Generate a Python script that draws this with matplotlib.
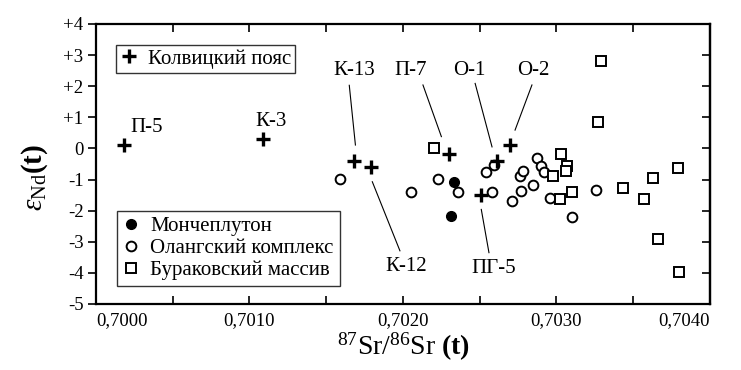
import numpy as np
import matplotlib
matplotlib.use('Agg')
from matplotlib import pyplot as plt
from matplotlib.lines import Line2D

plt.rcParams['font.family'] = ['Liberation Serif', 'DejaVu Serif']
plt.rcParams['mathtext.fontset'] = 'custom'
plt.rcParams['mathtext.rm'] = 'Liberation Serif'
plt.rcParams['mathtext.it'] = 'Liberation Serif:italic'
plt.rcParams['mathtext.bf'] = 'Liberation Serif:bold'

# Колвицкий пояс (crosses)
kolv_sr = [0.70018, 0.70109, 0.70168, 0.70179, 0.70230, 0.70261, 0.70270, 0.70251]
kolv_nd = [0.1, 0.3, -0.40, -0.59, -0.19, -0.40, 0.11, -1.50]

# Мончеплутон (filled circles)
monch_sr = [0.70233, 0.70231]
monch_nd = [-1.09, -2.16]

# Олангский комплекс (open circles)
olang_sr = [0.70159, 0.70205, 0.70223, 0.70236, 0.70254, 0.70259, 0.70258, 0.70271, 0.70277,
            0.70285, 0.70276, 0.70278, 0.70287, 0.70290, 0.70292, 0.70296, 0.70310, 0.70326]
olang_nd = [-0.99, -1.39, -0.99, -1.39, -0.75, -0.54, -1.39, -1.68, -1.37,
            -1.19, -0.88, -0.74, -0.30, -0.56, -0.77, -1.60, -2.20, -1.32]

# Бураковский массив (open squares)
burak_sr = [0.70220, 0.70303, 0.70307, 0.70306, 0.70298, 0.70310, 0.70302, 0.70329, 0.70327,
            0.70343, 0.70357, 0.70363, 0.70379, 0.70366, 0.70380]
burak_nd = [0.0, -0.18, -0.57, -0.72, -0.89, -1.39, -1.63, 2.81, 0.86,
            -1.26, -1.64, -0.94, -0.64, -2.91, -3.98]

# sample labels: name, text x, text y, leader line (x0, y0, x1, y1) or None
labels = [
    ('П-5', 0.70033, 0.66, None),
    ('К-3', 0.70114, 0.85, None),
    ('К-13', 0.70168, 2.49, (0.70165, 2.03, 0.70169, 0.11)),
    ('П-7', 0.70205, 2.50, (0.70213, 2.04, 0.70225, 0.38)),
    ('О-1', 0.70243, 2.50, (0.70247, 2.09, 0.70258, 0.05)),
    ('О-2', 0.70285, 2.50, (0.70284, 2.04, 0.70273, 0.59)),
    ('К-12', 0.70202, -3.80, (0.70180, -1.07, 0.70198, -3.29)),
    ('ПГ-5', 0.70259, -3.86, (0.70251, -1.96, 0.70256, -3.35)),
]

xticks = np.arange(0.7000, 0.70401, 0.0005)
xticklabels = ['0,7000', '', '0,7010', '', '0,7020', '', '0,7030', '', '0,7040']
yticks = np.arange(-5, 5)
yticklabels = ['-5', '-4', '-3', '-2', '-1', '0', '+1', '+2', '+3', '+4']

fig = plt.figure(figsize=(7.41, 3.70), dpi=100)
ax = fig.add_axes([96/741., 66/370., 614/741., 280/370.])

ax.plot(olang_sr, olang_nd, 'o', mfc='white', mec='black', ms=7, mew=1.4, zorder=3)
ax.plot(burak_sr, burak_nd, 's', mfc='white', mec='black', ms=7.2, mew=1.4, zorder=3)
ax.plot(monch_sr, monch_nd, 'o', mfc='black', mec='black', ms=7, zorder=4)
ax.plot(kolv_sr, kolv_nd, '+', color='black', ms=10.5, mew=2.4, zorder=5)

for name, tx, ty, seg in labels:
	ax.text(tx, ty, name, ha='center', va='center', fontsize=15)
	if seg is not None:
		ax.plot([seg[0], seg[2]], [seg[1], seg[3]], '-', color='black', lw=0.8)

ax.set_xlim(0.7000, 0.7040)
ax.set_ylim(-5, 4)
ax.set_xticks(xticks)
ax.set_xticklabels(xticklabels)
ax.set_yticks(yticks)
ax.set_yticklabels(yticklabels)
tl = ax.get_xticklabels()
tl[0].set_ha('left')
tl[-1].set_ha('right')

ax.tick_params(axis='x', direction='in', top=True, length=6, width=1.2, labelsize=13.5, pad=6)
ax.tick_params(axis='y', direction='out', length=6, width=1.2, labelsize=13.5, pad=3)
for s in ax.spines.values():
	s.set_linewidth(1.6)

sec = ax.secondary_yaxis('right')
sec.set_yticks(yticks)
sec.tick_params(direction='in', length=6, width=1.2, labelright=False)
sec.spines['right'].set_linewidth(1.6)

ax.set_xlabel(r'$^{87}\mathrm{Sr}/^{86}\mathrm{Sr}\ \mathbf{(t)}$', fontsize=20, labelpad=1)
ax.set_ylabel(r'$\varepsilon_{\mathrm{Nd}}\mathbf{(t)}$', fontsize=21, labelpad=1)
ax.yaxis.set_label_coords(-0.075, 0.45)

h1 = [Line2D([], [], ls='', marker='+', color='black', ms=10.5, mew=2.4)]
leg1 = ax.legend(h1, ['Колвицкий пояс'], loc='upper left', bbox_to_anchor=(0.033, 0.925),
                 borderaxespad=0, fontsize=15, fancybox=False, edgecolor='black',
                 handlelength=0.8, handletextpad=0.5, borderpad=0.2)
leg1.get_frame().set_linewidth(1.0)
ax.add_artist(leg1)

h2 = [Line2D([], [], ls='', marker='o', mfc='black', mec='black', ms=7),
      Line2D([], [], ls='', marker='o', mfc='white', mec='black', ms=7, mew=1.4),
      Line2D([], [], ls='', marker='s', mfc='white', mec='black', ms=7, mew=1.4)]
leg2 = ax.legend(h2, ['Мончеплутон', 'Олангский комплекс', 'Бураковский массив'],
                 loc='lower left', bbox_to_anchor=(0.034, 0.064), borderaxespad=0,
                 fontsize=15, fancybox=False, edgecolor='black', handlelength=0.8,
                 handletextpad=0.5, borderpad=0.3, labelspacing=0.1)
leg2.get_frame().set_linewidth(1.0)

fig.savefig('out.png', dpi=100)
